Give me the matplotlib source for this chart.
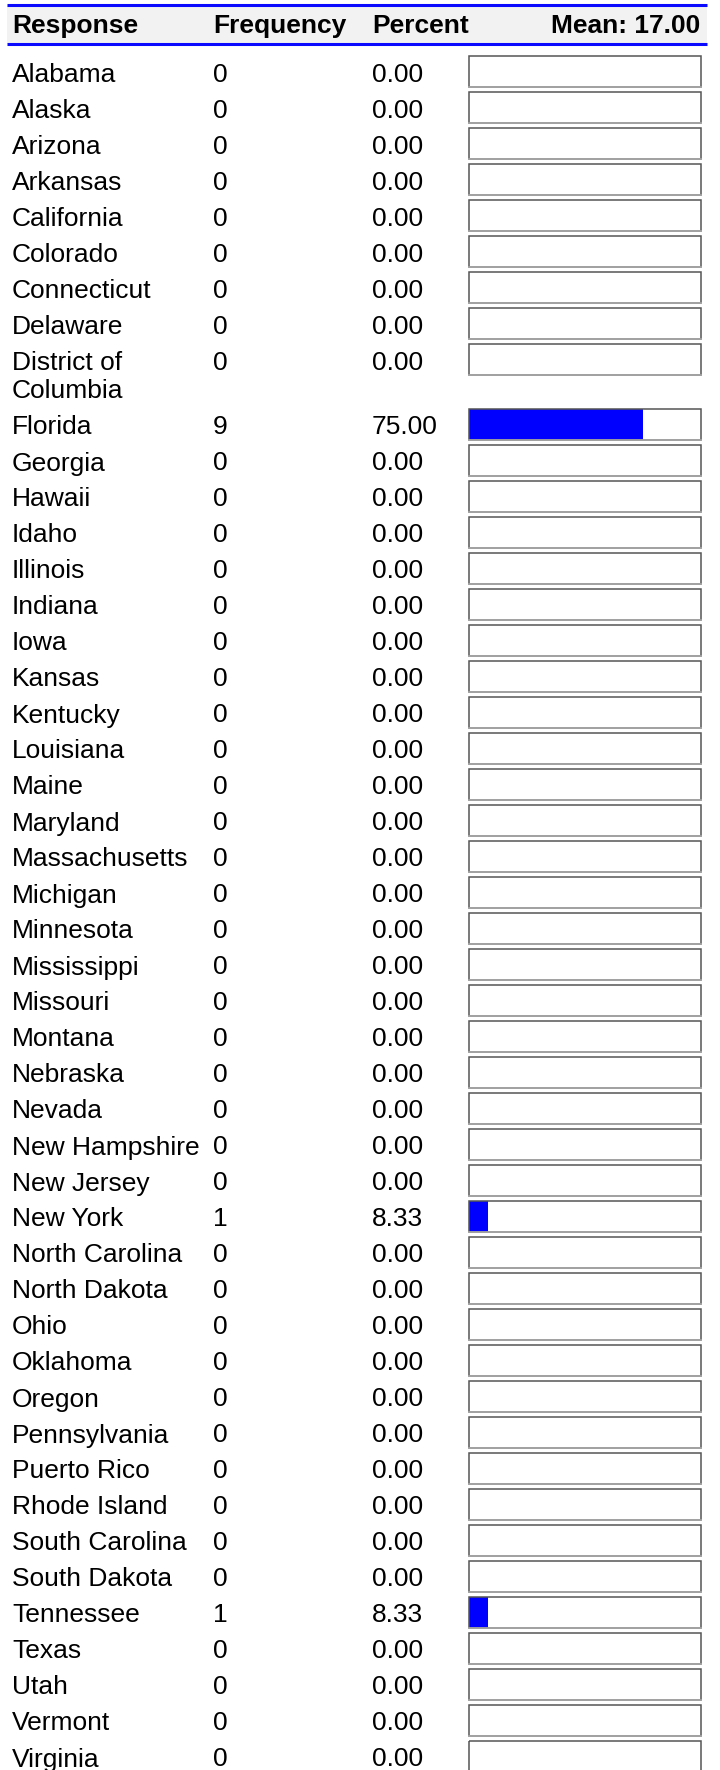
import matplotlib.pyplot as plt
from matplotlib.patches import Rectangle

# data
states = ["Alabama", "Alaska", "Arizona", "Arkansas", "California", "Colorado",
          "Connecticut", "Delaware", "District of\nColumbia", "Florida", "Georgia",
          "Hawaii", "Idaho", "Illinois", "Indiana", "Iowa", "Kansas", "Kentucky",
          "Louisiana", "Maine", "Maryland", "Massachusetts", "Michigan", "Minnesota",
          "Mississippi", "Missouri", "Montana", "Nebraska", "Nevada", "New Hampshire",
          "New Jersey", "New York", "North Carolina", "North Dakota", "Ohio",
          "Oklahoma", "Oregon", "Pennsylvania", "Puerto Rico", "Rhode Island",
          "South Carolina", "South Dakota", "Tennessee", "Texas", "Utah", "Vermont",
          "Virginia"]
freq = [0, 0, 0, 0, 0, 0, 0, 0, 0, 9, 0, 0, 0, 0, 0, 0, 0, 0, 0, 0, 0, 0, 0, 0,
        0, 0, 0, 0, 0, 0, 0, 1, 0, 0, 0, 0, 0, 0, 0, 0, 0, 0, 1, 0, 0, 0, 0]
percent = [0.00, 0.00, 0.00, 0.00, 0.00, 0.00, 0.00, 0.00, 0.00, 75.00, 0.00, 0.00,
           0.00, 0.00, 0.00, 0.00, 0.00, 0.00, 0.00, 0.00, 0.00, 0.00, 0.00, 0.00,
           0.00, 0.00, 0.00, 0.00, 0.00, 0.00, 0.00, 8.33, 0.00, 0.00, 0.00, 0.00,
           0.00, 0.00, 0.00, 0.00, 0.00, 0.00, 8.33, 0.00, 0.00, 0.00, 0.00]
headers = ["Response", "Frequency", "Percent"]
mean_label = "Mean: 17.00"

# layout (pixels)
W, H = 720, 1770
col_x = [12, 213, 372]
box_l, box_w, box_h = 469, 232, 31
row_h, first_top, line_h = 36, 56, 29
fs = 19

plt.rcParams['font.family'] = ['Liberation Sans', 'DejaVu Sans']

fig = plt.figure(figsize=(W / 100, H / 100), dpi=100)
ax = fig.add_axes([0, 0, 1, 1])
ax.set_xlim(0, W)
ax.set_ylim(H, 0)
ax.axis('off')

# header band
ax.add_patch(Rectangle((7, 5), 700, 39, facecolor='#f2f2f2', edgecolor='none'))
ax.plot([7, 707], [5, 5], color='#0a0aff', lw=2.2, solid_capstyle='butt')
ax.plot([7, 707], [44, 44], color='#0a0aff', lw=2.2, solid_capstyle='butt')
for x, h in zip(col_x, headers):
    ax.text(x, 33, h, fontsize=fs, fontweight='bold', va='baseline', ha='left')
ax.text(box_l + box_w - 1, 33, mean_label, fontsize=fs, fontweight='bold',
        va='baseline', ha='right')

# rows: wrapped labels make their row taller
tops = []
y = first_top
for s in states:
    tops.append(y)
    y += row_h + line_h * s.count("\n")
centers = [t + box_h / 2 for t in tops]

ax.barh(centers, [p / 100 * box_w for p in percent], left=box_l, height=box_h,
        color='#0000ff', edgecolor='none', zorder=2)

for i, (s, f, p) in enumerate(zip(states, freq, percent)):
    base = centers[i] + 10
    for k, part in enumerate(s.split("\n")):
        ax.text(col_x[0], base + k * line_h, part, fontsize=fs,
                va='baseline', ha='left')
    ax.text(col_x[1], base, str(f), fontsize=fs, va='baseline', ha='left')
    ax.text(col_x[2], base, f"{p:.2f}", fontsize=fs, va='baseline', ha='left')
    ax.add_patch(Rectangle((box_l, tops[i]), box_w, box_h, facecolor='none',
                           edgecolor='#555555', lw=1.1, zorder=3))
    ax.plot([box_l, box_l + box_w], [tops[i] + box_h, tops[i] + box_h],
            color='#aaaaaa', lw=1.2, zorder=4)

fig.savefig('out.png', dpi=100)
